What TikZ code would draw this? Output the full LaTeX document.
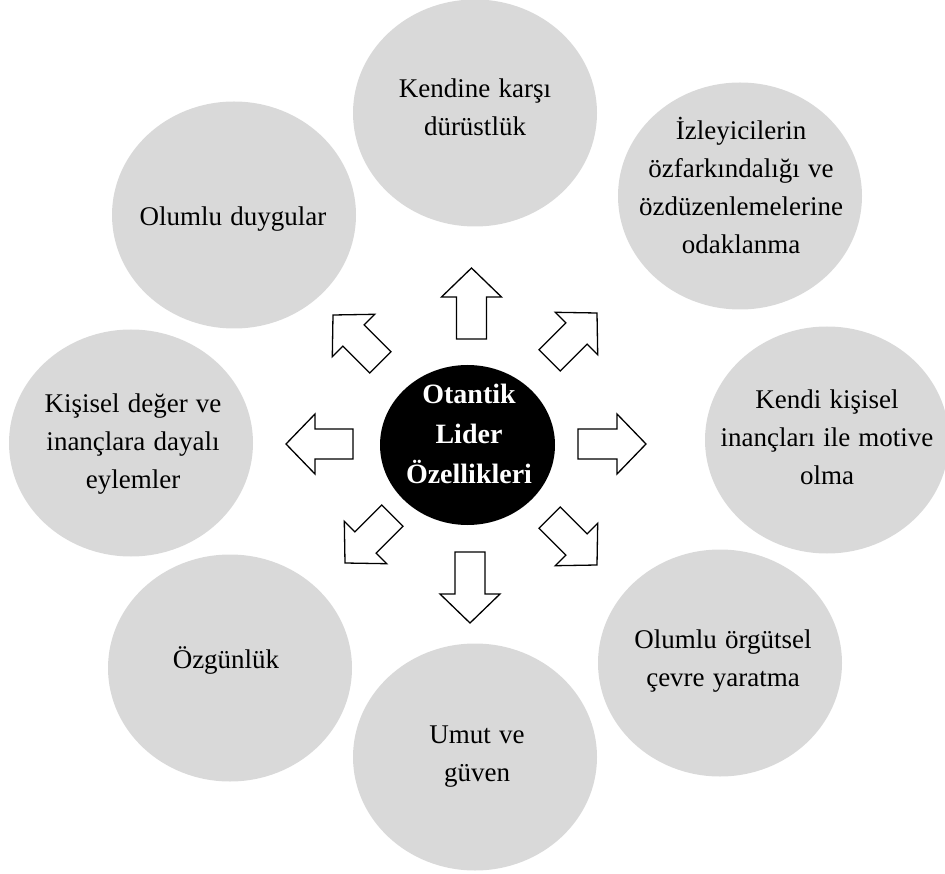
\documentclass[tikz,border=0pt]{standalone}
\usepackage{fontspec}
\setmainfont{Liberation Serif}
\usetikzlibrary{shapes.geometric}
\definecolor{circfill}{HTML}{D9D9D9}
\newcommand\linesof[1]{\begin{tabular}{@{}c@{}}#1\end{tabular}}
\newcommand\outerfont{\fontsize{27}{38}\selectfont\spaceskip=0.3em plus 0.1em\relax}
\newcommand\barrow[3]{%
  \draw[blockarrow, shift={#1}, rotate=#2] (0,0) -- (-29,30) -- (-29,15) -- (-#3,15) -- (-#3,-15) -- (-29,-15) -- (-29,-30) -- cycle;}
\tikzset{
  outer/.style={ellipse, fill=circfill, minimum width=244pt, minimum height=227pt, inner sep=0pt},
  outtxt/.style={inner sep=0pt, font=\outerfont},
  core/.style={ellipse, fill=black, minimum width=175pt, minimum height=160pt, inner sep=0pt},
  coretxt/.style={inner sep=0pt, text=white, font=\fontsize{28}{40}\selectfont\bfseries},
  blockarrow/.style={draw=black, fill=white, line width=1.3pt, line join=miter},
}
\begin{document}
\begin{tikzpicture}[x=1pt, y=-1pt]
\useasboundingbox (0,0) rectangle (945,874);
\clip (0,0) rectangle (945,874);
% outer circles
\node[outer] (ctop) at (475,113) {};
\node[outer] (ctr)  at (740,196) {};
\node[outer] (cr)   at (827,440) {};
\node[outer] (cbr)  at (720,663) {};
\node[outer] (cb)   at (475,757) {};
\node[outer] (cbl)  at (230,668) {};
\node[outer] (cl)   at (131,443) {};
\node[outer] (ctl)  at (234,215) {};
% center
\node[core] (core) at (467.5,445) {};
% arrows
\barrow{(471.5,268)}{90}{71}
\barrow{(470,623)}{-90}{71}
\barrow{(286,444)}{180}{67}
\barrow{(646,444)}{0}{68}
\barrow{(333,315)}{135}{67}
\barrow{(597,313)}{45}{67}
\barrow{(345,563)}{225}{67}
\barrow{(597,565)}{-45}{67}
% texts
\node[outtxt] (ttop) at (475,108.5) {\linesof{Kendine karşı\\dürüstlük}};
\node[outtxt] (ttr)  at (741,188.5) {\linesof{İzleyicilerin\\özfarkındalığı ve\\özdüzenlemelerine\\odaklanma}};
\node[outtxt] (tr)   at (827,439) {\linesof{Kendi kişisel\\inançları ile motive\\olma}};
\node[outtxt] (tbr)  at (723,659.5) {\linesof{Olumlu örgütsel\\çevre yaratma}};
\node[outtxt] (tb)   at (477,755) {\linesof{Umut ve\\güven}};
\node[outtxt] (tbl)  at (226,660.5) {\linesof{Özgünlük}};
\node[outtxt] (tl)   at (133,442.5) {\linesof{Kişisel değer ve\\inançlara dayalı\\eylemler}};
\node[outtxt] (ttl)  at (233,217.5) {\linesof{Olumlu duygular}};
\node[coretxt] (tcore) at (469,435.5) {\linesof{Otantik\\Lider\\Özellikleri}};
\end{tikzpicture}
\end{document}
